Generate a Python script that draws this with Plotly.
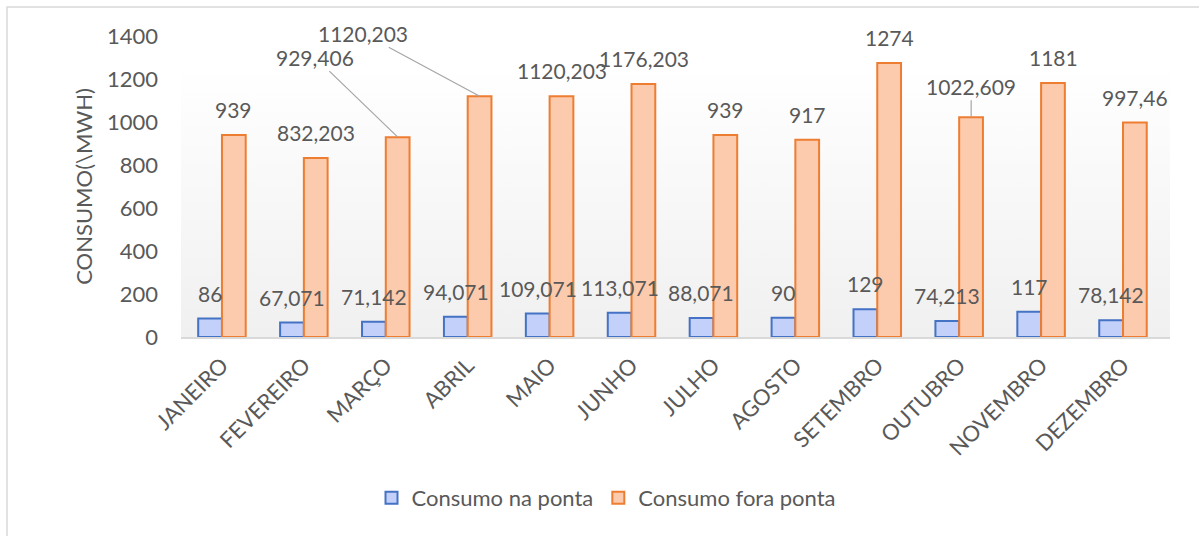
import base64
import plotly.graph_objects as go

months = ["JANEIRO", "FEVEREIRO", "MARÇO", "ABRIL", "MAIO", "JUNHO",
          "JULHO", "AGOSTO", "SETEMBRO", "OUTUBRO", "NOVEMBRO", "DEZEMBRO"]
na_ponta = [86, 67.071, 71.142, 94.071, 109.071, 113.071, 88.071, 90, 129, 74.213, 117, 78.142]
fora_ponta = [939, 832.203, 929.406, 1120.203, 1120.203, 1176.203, 939, 917, 1274, 1022.609, 1181, 997.46]
y_ticks = [0, 200, 400, 600, 800, 1000, 1200, 1400]

# labels with leader lines: index -> (dx, dy) pixel offset of text from bar top
leader = {2: (-83, -80), 3: (-117, -63), 9: (0, -31)}

def fmt(v):
    s = f"{v:.3f}".rstrip("0").rstrip(".")
    return s.replace(".", ",")

FONT = "Lato, 'Open Sans', sans-serif"
GRAY = "#595959"
FS = 22
FL = 21

W, H = 1199, 536
L, R, T, B = 181, 29, 36, 199
pw, ph = W - L - R, H - T - B

fig = go.Figure()
fig.add_trace(go.Bar(x=months, y=na_ponta, name="Consumo na ponta",
                     marker=dict(color="#C3D1FA", line=dict(color="#4472C4", width=2))))
fig.add_trace(go.Bar(x=months, y=fora_ponta, name="Consumo fora ponta",
                     marker=dict(color="#FCCAAD", line=dict(color="#ED7D31", width=2))))

ann = []
for i, m in enumerate(months):
    ann.append(dict(x=m, y=na_ponta[i], text=fmt(na_ponta[i]), showarrow=False,
                    xshift=-12, yshift=11, yanchor="bottom",
                    font=dict(family=FONT, size=FL, color=GRAY)))
    if i in leader:
        dx, dy = leader[i]
        ann.append(dict(x=m, y=fora_ponta[i], text=fmt(fora_ponta[i]), showarrow=True,
                        arrowhead=0, arrowwidth=1.2, arrowcolor="#A6A6A6",
                        ax=dx, ay=dy, xshift=12, standoff=0,
                        font=dict(family=FONT, size=FL, color=GRAY)))
    else:
        ann.append(dict(x=m, y=fora_ponta[i], text=fmt(fora_ponta[i]), showarrow=False,
                        xshift=12, yshift=11, yanchor="bottom",
                        font=dict(family=FONT, size=FL, color=GRAY)))

svg = ('<svg xmlns="http://www.w3.org/2000/svg" width="100" height="100" preserveAspectRatio="none">'
       '<defs><linearGradient id="g" x1="0" y1="0" x2="0" y2="1">'
       '<stop offset="0.1" stop-color="#FFFFFF"/><stop offset="1" stop-color="#F0F0F0"/>'
       '</linearGradient></defs><rect width="100" height="100" fill="url(#g)"/></svg>')
src = "data:image/svg+xml;base64," + base64.b64encode(svg.encode()).decode()

def px(xp):
    return (xp - L) / pw

def py(yp):
    return (H - B - yp) / ph

fig.update_layout(
    width=W, height=H,
    margin=dict(l=L, r=R, t=T, b=B),
    paper_bgcolor="white", plot_bgcolor="rgba(0,0,0,0)",
    barmode="group", bargap=0.42, bargroupgap=0,
    font=dict(family=FONT, size=FS, color=GRAY),
    annotations=ann,
    images=[dict(source=src, xref="paper", yref="paper", x=0, y=1, sizex=1, sizey=1,
                 sizing="stretch", layer="below")],
    shapes=[dict(type="rect", xref="paper", yref="paper",
                 x0=px(7), x1=px(1215), y0=py(545), y1=py(7),
                 line=dict(color="#D9D9D9", width=1.5), fillcolor="rgba(0,0,0,0)", layer="below")],
    legend=dict(orientation="h", x=px(606), xanchor="center", y=py(498), yanchor="middle",
                font=dict(family=FONT, size=FS, color=GRAY), traceorder="normal",
                itemwidth=30, tracegroupgap=0),
    showlegend=True,
)
fig.update_xaxes(showline=True, linecolor="#D9D9D9", linewidth=1.5, ticks="",
                 tickangle=-45, ticklabelstandoff=5, showgrid=False,
                 tickfont=dict(family=FONT, size=FS, color=GRAY))
fig.update_yaxes(range=[0, 1400], tickvals=y_ticks, showgrid=False, zeroline=False,
                 showline=False, ticks="", ticklabelstandoff=22,
                 tickfont=dict(family=FONT, size=FS, color=GRAY),
                 title=dict(text="CONSUMO(\\MWH)", standoff=8,
                            font=dict(family=FONT, size=FS, color=GRAY)))

fig.write_html("out.html", post_script="document.body.style.margin='0';",
               config={"displayModeBar": False})
